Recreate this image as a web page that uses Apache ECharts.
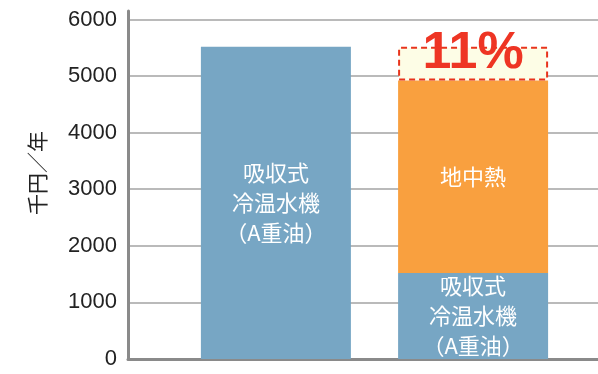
<!DOCTYPE html>
<html>
<head>
<meta charset="utf-8">
<script src="https://cdn.jsdelivr.net/npm/echarts@6/dist/echarts.min.js"></script>
<style>
html, body { margin: 0; padding: 0; background: #fff; }
#chart { width: 598px; height: 374px; }
</style>
</head>
<body>
<div id="chart"></div>
<script>
// slots on the x axis (labels are not shown in the figure)
const categories = ['', 'before', '', 'after', ''];
const oilValues = [null, 5520, null, 1520, null];
const geoValues = [null, null, null, 3400, null];
const savedValues = [null, null, null, 600, null];
const oilLabel = '吸収式\n冷温水機\n（A重油）';
const geoLabel = '地中熱';
const savedLabel = '11%';
const yName = '千円／年';

const cjk = '"Noto Sans CJK JP", "Liberation Sans", sans-serif';
const num = '"Liberation Sans", Arial, sans-serif';

const chart = echarts.init(document.getElementById('chart'));

chart.setOption({
    animation: false,
    grid: {
        left: 128,
        top: 11,
        bottom: 15,
        right: -23,
        outerBoundsMode: 'none'
    },
    xAxis: {
        type: 'category',
        data: categories,
        axisTick: { show: false },
        axisLabel: { show: false },
        axisLine: {
            lineStyle: { color: '#8a8a8a', width: 3 }
        }
    },
    yAxis: {
        type: 'value',
        min: 0,
        max: 6150,
        interval: 1000,
        name: yName,
        nameLocation: 'middle',
        nameRotate: 90,
        nameGap: 80,
        nameTextStyle: {
            fontFamily: cjk,
            fontSize: 21,
            color: '#222',
            padding: [0, 0, 0, 24]
        },
        axisLine: {
            show: true,
            lineStyle: { color: '#8a8a8a', width: 3 }
        },
        axisTick: { show: false },
        axisLabel: {
            fontFamily: num,
            fontSize: 22,
            color: '#222',
            margin: 11,
            showMaxLabel: false,
            formatter: function (v) { return String(v); }
        },
        splitLine: {
            showMaxLine: false,
            lineStyle: { color: '#a3a3a3', width: 1.5 }
        }
    },
    series: [{
        name: 'oil',
        type: 'bar',
        stack: 'total',
        barWidth: 150,
        data: oilValues,
        itemStyle: { color: '#77a6c4' },
        label: {
            show: true,
            position: 'inside',
            formatter: oilLabel,
            fontFamily: cjk,
            fontSize: 22,
            lineHeight: 30,
            color: '#fff'
        }
    }, {
        name: 'geo',
        type: 'bar',
        stack: 'total',
        barWidth: 150,
        data: geoValues,
        itemStyle: { color: '#f9a03f' },
        label: {
            show: true,
            position: 'inside',
            formatter: geoLabel,
            fontFamily: cjk,
            fontSize: 22,
            color: '#fff'
        }
    }, {
        name: 'saved',
        type: 'bar',
        stack: 'total',
        barWidth: 150,
        data: savedValues,
        itemStyle: {
            color: '#fdfde6',
            borderColor: '#e8341c',
            borderWidth: 2,
            borderType: [6, 4]
        },
        label: {
            show: true,
            position: ['50%', 0],
            align: 'center',
            verticalAlign: 'middle',
            offset: [0, 7],
            formatter: savedLabel,
            fontFamily: num,
            fontSize: 52,
            fontWeight: 'bold',
            color: '#ee3524'
        }
    }]
});
</script>
</body>
</html>
